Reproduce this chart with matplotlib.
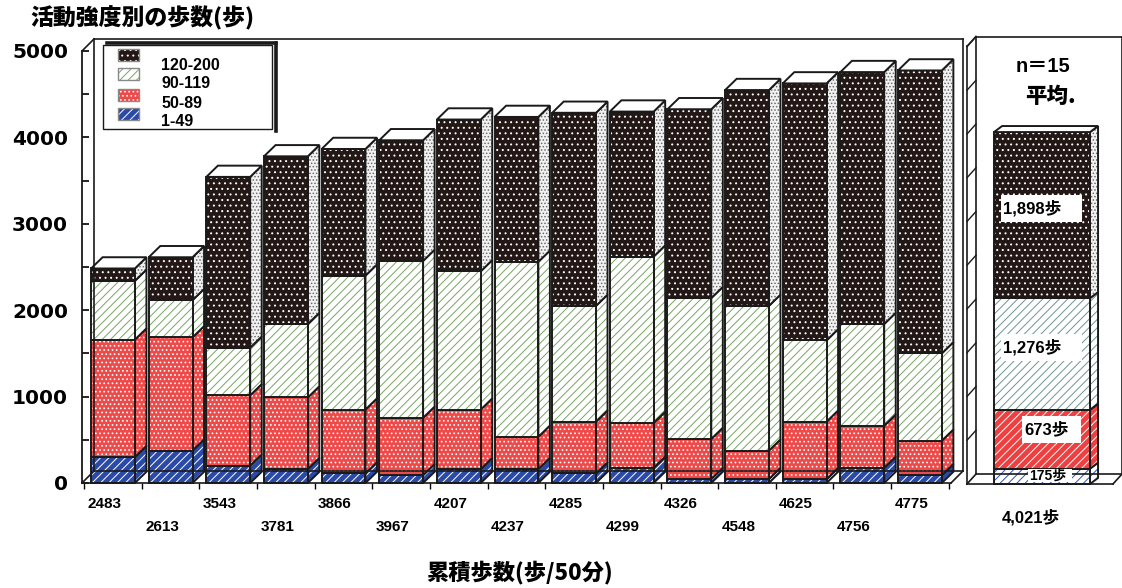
import numpy as np
import matplotlib
matplotlib.use("Agg")
import matplotlib.pyplot as plt
from matplotlib.patches import Polygon, Rectangle
from matplotlib.lines import Line2D
from matplotlib.transforms import blended_transform_factory

plt.rcParams['font.family'] = ['Liberation Sans', 'Noto Sans CJK JP', 'DejaVu Sans']
plt.rcParams['hatch.linewidth'] = 0.7

# cumulative steps per subject (steps / 50 min) and steps per intensity band
totals = [2483, 2613, 3543, 3781, 3866, 3967, 4207, 4237, 4285, 4299, 4326, 4548, 4625, 4756, 4775]
steps_1_49 = [300, 375, 201, 160, 110, 90, 160, 160, 110, 175, 45, 45, 45, 175, 90]
steps_50_89 = [1360, 1311, 814, 830, 740, 665, 690, 375, 600, 520, 465, 330, 665, 488, 400]
steps_90_119 = [680, 430, 551, 850, 1550, 1815, 1600, 2025, 1340, 1925, 1630, 1675, 940, 1177, 1010]
steps_120_200 = [143, 497, 1977, 1941, 1466, 1397, 1757, 1677, 2235, 1679, 2186, 2498, 2975, 2916, 3275]
band_names = ['1-49', '50-89', '90-119', '120-200']

# average of the 15 subjects
avg_steps = [175, 673, 1276, 1898]
avg_total = 4021
n_subjects = 15

W, H = 1122, 588
def fx(x):
    return x / W
def fy(y):
    return 1 - y / H

# fill styles: face colour, hatch colour, hatch
front_styles = [
    dict(fc='#2b4aa8', hc='white', hatch='////'),
    dict(fc='#ee4a4a', hc='white', hatch='....'),
    dict(fc='white', hc='#78a562', hatch='////'),
    dict(fc='#231815', hc='white', hatch='...'),
]
side_styles = [
    front_styles[0], front_styles[1], front_styles[2],
    dict(fc='#f2f2f2', hc='#6a6a6a', hatch='.....'),
]
avg_front = [
    dict(fc='white', hc='#2f4fc0', hatch='////'),
    dict(fc='#ee4040', hc='white', hatch='////'),
    dict(fc='white', hc='#6f9490', hatch='////'),
    dict(fc='#231815', hc='white', hatch='...'),
]
avg_side = [avg_front[0], avg_front[1], avg_front[2], side_styles[3]]


def face(ax, pts, st, lw=1.4):
    ax.add_patch(Polygon(pts, closed=True, facecolor=st['fc'], edgecolor=st['hc'],
                         hatch=st['hatch'], linewidth=0, clip_on=False))
    ax.add_patch(Polygon(pts, closed=True, fill=False, edgecolor='#1a1a1a',
                         linewidth=lw, clip_on=False))


def draw_box(ax, xc, w, y0, y1, ddx, ddy, front, side, top=False):
    xs, xe = xc - w / 2, xc + w / 2
    face(ax, [(xe, y0), (xe + ddx, y0 + ddy), (xe + ddx, y1 + ddy), (xe, y1)], side)
    face(ax, [(xs, y0), (xe, y0), (xe, y1), (xs, y1)], front)
    if top:
        ax.add_patch(Polygon([(xs, y1), (xe, y1), (xe + ddx, y1 + ddy), (xs + ddx, y1 + ddy)],
                             closed=True, facecolor='white', edgecolor='#1a1a1a',
                             linewidth=1.4, clip_on=False))


def wall_lines(ax, x0, x1, ytop, dxw, dyw, lw=1.2):
    segs = [
        [(x0, ytop), (x0 + dxw, ytop + dyw)],
        [(x0 + dxw, dyw), (x0 + dxw, ytop + dyw)],
        [(x0 + dxw, ytop + dyw), (x1, ytop + dyw)],
        [(x1, dyw), (x1, ytop + dyw)],
        [(x0, 0), (x1 - dxw, 0)],
        [(x1 - dxw, 0), (x1, dyw)],
        [(x0 + dxw, dyw), (x1, dyw)],
        [(x0, 0), (x0 + dxw, dyw)],
    ]
    for s in segs:
        xs, ys = zip(*s)
        ax.add_line(Line2D(xs, ys, color='#1a1a1a', lw=lw, clip_on=False))


fig = plt.figure(figsize=(W / 100, H / 100), dpi=100)

# ---- main panel: 15 subjects ----
ax = fig.add_axes([fx(82), fy(483), fx(963) - fx(82), fy(51) - fy(483)])
x0, x1 = -0.538, 14.747
ax.set_xlim(x0, x1)
ax.set_ylim(0, 5000)
for s in ['top', 'right', 'bottom']:
    ax.spines[s].set_visible(False)
ax.spines['left'].set_linewidth(1.3)
ax.spines['left'].set_color('#1a1a1a')
ax.set_yticks(range(0, 5001, 1000))
ax.set_yticks(range(500, 5000, 1000), minor=True)
ax.tick_params(axis='y', which='both', direction='in', length=5, width=1.2, pad=10)
for lab in ax.get_yticklabels():
    lab.set_fontweight('bold')
    lab.set_fontsize(14.5)
    lab.set_family('DejaVu Sans')
ax.set_xticks(np.arange(0, 16) - 0.5)
ax.tick_params(axis='x', direction='out', length=4, width=1.0, labelbottom=False)

dxw, dyw = 0.208, 139
wall_lines(ax, x0, x1, 5000, dxw, dyw)

bands = [steps_1_49, steps_50_89, steps_90_119, steps_120_200]
bar_w, bdx, bdy = 0.76, 0.2, 130
for i in range(len(totals)):
    base = 0
    for b in range(4):
        v = bands[b][i]
        draw_box(ax, i, bar_w, base, base + v, bdx, bdy, front_styles[b], side_styles[b],
                 top=(b == 3))
        base += v

tr = blended_transform_factory(ax.transData, fig.transFigure)
for i, t in enumerate(totals):
    ax.text(i - 0.15, fy(504 if i % 2 == 0 else 527), str(t), transform=tr,
            ha='center', va='center', fontsize=11, fontweight='bold')

# legend
fig.add_artist(Rectangle((fx(103), fy(129)), fx(272) - fx(103), fy(45) - fy(129),
                         fill=False, edgecolor='#1a1a1a', lw=1.0, transform=fig.transFigure))
fig.add_artist(Line2D([fx(107), fx(276)], [fy(42.5), fy(42.5)], color='#1a1a1a', lw=2.6,
                      transform=fig.transFigure))
fig.add_artist(Line2D([fx(275.5), fx(275.5)], [fy(42.5), fy(131)], color='#1a1a1a', lw=2.6,
                      transform=fig.transFigure))
sw_top = [49, 68, 89, 108]
txt_y = [66, 84, 103, 121]
for k, b in enumerate([3, 2, 1, 0]):
    st = front_styles[b]
    fig.add_artist(Rectangle((fx(118), fy(sw_top[k] + 12)), fx(139) - fx(118), fy(0) - fy(12),
                             facecolor=st['fc'], edgecolor=st['hc'], hatch=st['hatch'],
                             lw=0, transform=fig.transFigure))
    fig.add_artist(Rectangle((fx(118), fy(sw_top[k] + 12)), fx(139) - fx(118), fy(0) - fy(12),
                             fill=False, edgecolor='#888888', lw=1.0, transform=fig.transFigure))
    fig.text(fx(161), fy(txt_y[k]), band_names[b], ha='left', va='center', fontsize=11.5,
             fontweight='bold')

# ---- right panel: average ----
ax2 = fig.add_axes([fx(967), fy(484), fx(1122) - fx(967), fy(46.5) - fy(484)])
ax2.set_xlim(0, 1)
ax2.set_ylim(0, 5000)
ax2.axis('off')
rdx, rdy = 0.058, 114
ax2.add_line(Line2D([0, 0], [0, 5000], color='#1a1a1a', lw=1.2, clip_on=False))
wall_lines(ax2, 0, 1.0, 5000, rdx, rdy)
for v in range(500, 5001, 500):
    ax2.add_line(Line2D([0, rdx], [v, v + rdy], color='#1a1a1a', lw=1.0, clip_on=False))

avg_x, avg_w = 0.484, 0.619
base = 0
for b in range(4):
    draw_box(ax2, avg_x, avg_w, base, base + avg_steps[b], 0.052, 69, avg_front[b], avg_side[b],
             top=(b == 3))
    base += avg_steps[b]

# value boxes on the average bar
def value_box(x_l, x_r, y_t, y_b, tx, text, size):
    fig.add_artist(Rectangle((fx(x_l), fy(y_b)), fx(x_r) - fx(x_l), fy(y_t) - fy(y_b),
                             facecolor='white', edgecolor='none', transform=fig.transFigure))
    fig.text(fx(tx), fy((y_t + y_b) / 2), text, ha='left', va='center', fontsize=size,
             fontweight='bold')

value_box(1001, 1082, 195, 222, 1003, f'{avg_steps[3]:,}歩', 12)
value_box(1001, 1082, 334, 361, 1003, f'{avg_steps[2]:,}歩', 12)
value_box(1022, 1081, 416, 443, 1024, f'{avg_steps[1]:,}歩', 12)
value_box(1028, 1072, 469, 482, 1029, f'{avg_steps[0]:,}歩', 10)

fig.text(fx(1043), fy(67), f'n＝{n_subjects}', ha='center', va='center', fontsize=14.5,
         fontweight='bold')
fig.text(fx(1050), fy(96), '平均.', ha='center', va='center', fontsize=15.5,
         fontweight='heavy', family=['Noto Sans CJK JP'])
fig.text(fx(1031), fy(517), f'{avg_total:,}歩', ha='center', va='center', fontsize=12,
         fontweight='bold')

# titles
fig.text(fx(30), fy(18), '活動強度別の歩数(歩)', ha='left', va='center', fontsize=16.5,
         fontweight='heavy', family=['Noto Sans CJK JP'])
fig.text(fx(519), fy(572), '累積歩数(歩/50分)', ha='center', va='center', fontsize=16,
         fontweight='heavy', family=['Noto Sans CJK JP'])

fig.savefig('out.png', dpi=100)
